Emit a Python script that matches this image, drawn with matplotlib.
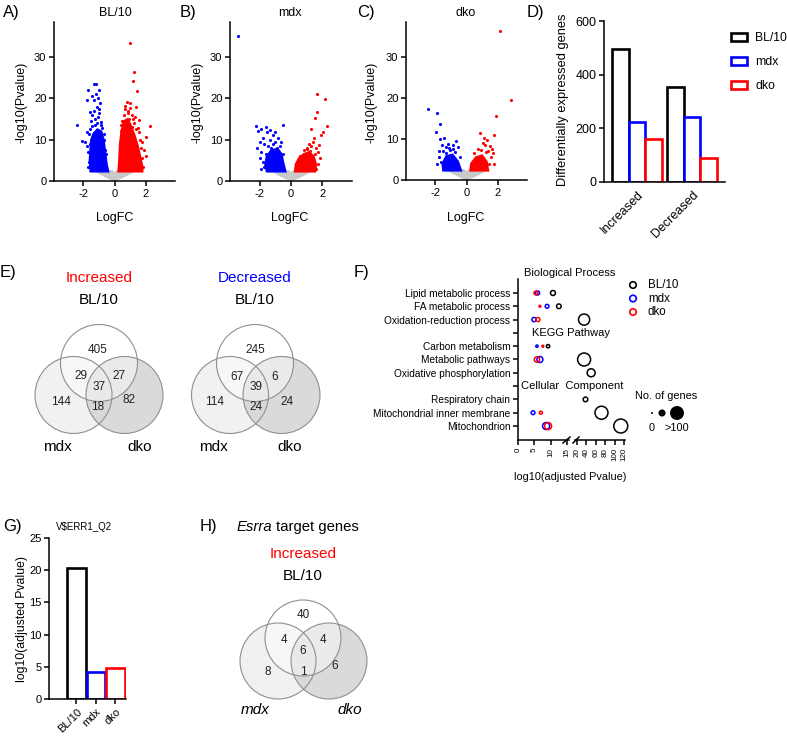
import numpy as np
import matplotlib
matplotlib.use("Agg")
import matplotlib.pyplot as plt
from matplotlib.patches import Circle, Polygon

plt.rcParams['font.family'] = ['Liberation Sans', 'DejaVu Sans']
plt.rcParams['axes.unicode_minus'] = False

# ---------------- data ----------------
# Volcano plots: gray (non-significant) envelope, dense cores and individual genes
gray_x = [0, -0.6, -1.3, -0.15, 0, 0.15, 1.35, 0.65]
gray_y = [0, 1.1, 2.5, 2.5, 1.9, 2.5, 2.5, 1.1]

a_down_core_x = [-1.55, -1.6, -1.55, -1.5, -1.35, -1.1, -0.85, -0.7, -0.6, -0.5, -0.4]
a_down_core_y = [2.3, 5, 8, 10, 11.5, 12.5, 12, 10, 7, 4, 2.3]
a_up_core_x = [0.25, 0.3, 0.35, 0.45, 0.6, 0.85, 1.05, 1.3, 1.5, 1.65, 1.8, 1.8]
a_up_core_y = [2.3, 5, 9, 12, 14.5, 15, 13.5, 11, 8.5, 6, 3.5, 2.3]
a_down_x = [-2.43, -2.08, -1.9, -1.8, -1.79, -1.73, -1.6, -1.44, -1.35, -1.2, -1.3, -1.08, -0.97, -1.13, -0.97,
            -1.25, -1.05, -0.9, -1.4, -1.6, -1.7, -1.65, -1.55, -0.85, -1.15, -1.35, -0.95, -1.5, -1.75, -0.7,
            -0.62, -1.2, -1.0, -1.45, -1.62, -1.48, -0.78, -0.66, -1.28, -1.72, -0.55]
a_down_y = [13.6, 9.8, 9.4, 11.8, 19.6, 22.0, 16.8, 13.2, 23.6, 23.6, 19.6, 20.0, 17.5, 18.0, 22.0,
            15.0, 15.5, 14.2, 11.0, 9.0, 7.0, 4.5, 12.5, 13.5, 14.0, 17.0, 19.0, 14.5, 8.5, 10.0,
            7.5, 21.0, 16.5, 20.5, 11.5, 16.0, 12.8, 11.5, 13.5, 3.5, 6.5]
a_up_x = [0.97, 1.26, 1.2, 1.43, 2.27, 2.0, 1.56, 1.03, 0.97, 1.39, 1.6, 0.8, 0.85, 0.6, 1.1, 1.25, 0.7, 1.5,
          1.8, 1.9, 1.75, 1.3, 0.5, 1.15, 0.95, 1.65, 1.4, 0.45, 1.85, 2.05, 0.65, 0.9, 1.2, 1.7, 0.4]
a_up_y = [33.3, 26.3, 24.1, 21.7, 13.2, 10.7, 11.8, 18.9, 17.7, 18.0, 14.8, 19.2, 16.5, 16.0, 16.0, 14.0, 17.5,
          12.8, 9.5, 7.5, 5.5, 15.5, 14.5, 13.0, 15.0, 10.0, 12.5, 12.0, 3.5, 6.0, 18.2, 17.0, 15.0, 8.0, 13.5]

b_down_core_x = [-1.55, -1.65, -1.55, -1.25, -0.85, -0.6, -0.5, -0.35]
b_down_core_y = [2.3, 4, 6, 7.5, 7.8, 6.5, 4.5, 2.3]
b_up_core_x = [0.25, 0.3, 0.5, 0.8, 1.15, 1.45, 1.6, 1.55]
b_up_core_y = [2.3, 4, 5.5, 6.5, 7.0, 6.0, 4, 2.3]
b_down_x = [-3.42, -2.26, -2.1, -1.9, -1.61, -0.54, -1.55, -1.12, -1.8, -2.0, -1.35, -0.8, -1.0, -1.7, -1.45,
            -2.2, -1.9, -0.7, -1.25, -1.6, -2.0, -1.8, -0.5, -1.05, -1.35, -0.9, -1.75, -1.95, -1.15, -0.65]
b_down_y = [35.2, 13.2, 12.0, 12.5, 13.1, 13.5, 11.8, 11.1, 10.5, 9.5, 10.0, 10.5, 9.5, 9.0, 8.5,
            8.0, 7.0, 8.5, 8.0, 6.5, 5.5, 4.5, 6.5, 11.8, 12.3, 8.0, 3.5, 3.0, 9.0, 9.5]
b_up_x = [1.68, 2.15, 1.68, 1.55, 2.3, 2.04, 1.25, 1.9, 1.47, 1.15, 1.3, 1.6, 1.75, 1.0, 0.8, 1.85, 1.7,
          1.55, 1.2, 0.55, 1.6, 1.4, 1.05, 1.8]
b_up_y = [21.0, 19.8, 16.7, 15.2, 13.2, 11.8, 12.5, 11.1, 10.3, 9.0, 8.5, 8.0, 7.0, 8.0, 7.5, 5.5, 4.0,
          6.5, 7.2, 6.0, 3.0, 9.5, 7.8, 8.8]

c_down_core_x = [-1.5, -1.55, -1.3, -0.9, -0.55, -0.35]
c_down_core_y = [2.3, 4, 5.8, 6.2, 4.5, 2.3]
c_up_core_x = [0.25, 0.3, 0.6, 1.0, 1.3, 1.4]
c_up_core_y = [2.3, 4, 5.5, 6, 4.5, 2.3]
c_down_x = [-2.5, -1.9, -1.73, -1.94, -1.47, -1.73, -1.6, -1.35, -1.2, -0.9, -0.55, -1.75, -1.5, -1.05,
            -0.75, -1.8, -1.65, -0.4, -1.3, -0.65, -1.9, -1.1, -0.85]
c_down_y = [17.4, 16.3, 13.6, 11.6, 10.2, 10.0, 8.5, 8.0, 8.8, 8.5, 8.0, 7.0, 7.0, 7.2,
            6.8, 5.5, 4.5, 5.5, 6.5, 9.5, 4.0, 7.8, 7.5]
c_up_x = [2.13, 2.84, 1.87, 1.76, 0.9, 1.33, 1.5, 1.2, 1.05, 1.65, 1.4, 0.75, 1.6, 1.45, 0.5, 1.7, 1.1, 1.8,
          0.95, 1.25]
c_up_y = [36.2, 19.4, 15.6, 11.0, 11.4, 9.8, 8.2, 8.5, 9.0, 7.5, 7.0, 7.5, 5.5, 4.0, 6.5, 6.5, 10.2, 4.0,
          7.2, 6.8]

# D) DEG counts
groups = ['BL/10', 'mdx', 'dko']
directions = ['Increased', 'Decreased']
deg_increased = [496, 225, 162]
deg_decreased = [354, 241, 89]

# E) Venn counts: BL only, BL&mdx, BL&dko, all, mdx only, mdx&dko, dko only
venn_inc = [405, 29, 27, 37, 144, 18, 82]
venn_dec = [245, 67, 6, 39, 114, 24, 24]

# F) enrichment
terms = ['Lipid metabolic process', 'FA metabolic process', 'Oxidation-reduction process', '',
         'Carbon metabolism', 'Metabolic pathways', 'Oxidative phosphorylation', '',
         'Respiratory chain', 'Mitochondrial inner membrane', 'Mitochondrion']
nan = np.nan
bl10_p = [10.7, 12.5, 35, nan, 9.2, 35, 50, nan, 38, 72, 113]
bl10_n = [14, 12, 70, nan, 6, 95, 36, nan, 12, 95, 110]
mdx_p = [6.0, 8.9, 4.9, nan, 5.8, 6.7, nan, nan, nan, 4.6, 8.6]
mdx_n = [9, 8, 10, nan, 3, 20, nan, nan, nan, 8, 28]
dko_p = [5.5, 6.7, 6.1, nan, 7.6, 5.8, nan, nan, nan, 7.0, 9.2]
dko_n = [9, 2, 9, nan, 2, 16, nan, nan, nan, 5, 28]
sections = ['Biological Process', 'KEGG Pathway', 'Cellular  Component']
f_xticks = [0, 5, 10, 15, 20, 40, 60, 80, 100, 120]

# G) ERR1 motif
g_groups = ['BL/10', 'mdx', 'dko']
g_values = [20.4, 4.2, 4.8]

# H) Esrra targets
venn_esrra = [40, 4, 4, 6, 8, 1, 6]

colors = ['black', '#0000ff', '#ff0000']

# ---------------- figure ----------------
W, H = 787, 738
fig = plt.figure(figsize=(W / 100, H / 100), dpi=100)


def ax_px(l, t, r, b):
    return fig.add_axes([l / W, 1 - b / H, (r - l) / W, (b - t) / H])


def style(ax, lw=1.1, ls=8):
    for s in ['top', 'right']:
        ax.spines[s].set_visible(False)
    for s in ['left', 'bottom']:
        ax.spines[s].set_linewidth(lw)
    ax.tick_params(length=3.5, width=lw, labelsize=ls, direction='out', pad=2)


def volcano(ax, dcx, dcy, ucx, ucy, dx, dy, ux, uy):
    ax.add_patch(Polygon(np.column_stack([gray_x, gray_y]), closed=True, fc='#c9c9c9', ec='#c9c9c9', lw=1))
    ax.add_patch(Polygon(np.column_stack([dcx, dcy]), closed=True, fc='#0000ff', ec='#0000ff', lw=1.5))
    ax.add_patch(Polygon(np.column_stack([ucx, ucy]), closed=True, fc='#ff0000', ec='#ff0000', lw=1.5))
    ax.scatter(dx, dy, s=5, c='#0000ff', lw=0)
    ax.scatter(ux, uy, s=5, c='#ff0000', lw=0)
    ax.set_xlim(-3.9, 3.9)
    ax.set_ylim(0, 38.5)
    ax.set_xticks([-2, 0, 2])
    ax.set_yticks([0, 10, 20, 30])
    style(ax)


axA = ax_px(54, 22, 175, 181)
volcano(axA, a_down_core_x, a_down_core_y, a_up_core_x, a_up_core_y, a_down_x, a_down_y, a_up_x, a_up_y)
axB = ax_px(230, 22, 352, 181)
volcano(axB, b_down_core_x, b_down_core_y, b_up_core_x, b_up_core_y, b_down_x, b_down_y, b_up_x, b_up_y)
axC = ax_px(406, 22, 527, 180)
volcano(axC, c_down_core_x, c_down_core_y, c_up_core_x, c_up_core_y, c_down_x, c_down_y, c_up_x, c_up_y)

# D
axD = ax_px(604, 21, 725, 182)
w = 0.30
bars = []
for i, g in enumerate(groups):
    vals = [deg_increased[i], deg_decreased[i]]
    b = axD.bar(np.arange(2) + (i - 1) * w, vals, width=w, fc='white', ec=colors[i], lw=1.9, label=g)
    bars.append(b)
axD.set_xlim(-0.6, 1.6)
axD.set_ylim(0, 600)
axD.set_yticks([0, 200, 400, 600])
axD.set_xticks([0, 1])
axD.set_xticklabels(directions, rotation=45, ha='right', va='top', rotation_mode='anchor')
style(axD, ls=9)
axD.tick_params(axis='x', length=0, pad=5)
axD.legend(handles=bars, loc='upper left', bbox_to_anchor=(720 / W, 1 - 21 / H), bbox_transform=fig.transFigure,
           frameon=False, fontsize=8.8, handlelength=1.3, handleheight=0.6, handletextpad=0.7, labelspacing=1.0)

# F
axF = ax_px(518, 279, 625, 440)
fx = [-100, 0, 15, 20, 1000]
fp = [-327, 0, 49, 59, 59 + 980 * 0.47]
axF.set_xscale('function', functions=(lambda v: np.interp(v, fx, fp), lambda v: np.interp(v, fp, fx)))
rows = np.arange(1, len(terms) + 1)
for p, n, c in [(bl10_p, bl10_n, colors[0]), (mdx_p, mdx_n, colors[1]), (dko_p, dko_n, colors[2])]:
    axF.scatter(p, rows, s=np.array(n, dtype=float) * 0.92, facecolors='none', edgecolors=c, lw=1.1,
                clip_on=False, zorder=3)
axF.set_xlim(0, 122)
axF.set_ylim(12.05, -0.05)
axF.set_yticks(rows)
axF.set_yticklabels(terms)
axF.set_xticks(f_xticks)
axF.set_xticklabels([str(t) for t in f_xticks], rotation=90)
axF.xaxis.set_minor_locator(matplotlib.ticker.NullLocator())
style(axF)
axF.tick_params(axis='y', labelsize=7.3)
axF.tick_params(axis='x', labelsize=5.8)
axF.spines['bottom'].set_visible(False)
axF.plot([0, 15.8], [0, 0], transform=axF.get_xaxis_transform(), color='k', lw=1.1, clip_on=False)
axF.plot([19.2, 122], [0, 0], transform=axF.get_xaxis_transform(), color='k', lw=1.1, clip_on=False)

# G
axG = ax_px(49, 538, 126, 699)
axG.bar(np.arange(3), g_values, width=0.97, fc='white', ec=colors, lw=1.9)
axG.set_xlim(-1.41, 2.54)
axG.set_ylim(0, 25)
axG.set_yticks([0, 5, 10, 15, 20, 25])
axG.set_xticks(np.arange(3))
axG.set_xticklabels(g_groups, rotation=45, ha='right', va='top', rotation_mode='anchor')
style(axG)

# ---------------- overlay (pixel coords) ----------------
ov = fig.add_axes([0, 0, 1, 1])
ov.set_xlim(0, W)
ov.set_ylim(H, 0)
ov.axis('off')


def T(x, y, s, **kw):
    kw.setdefault('ha', 'center')
    kw.setdefault('va', 'center')
    ov.text(x, y, s, **kw)


# panel letters
for (x, y, s) in [(3, 13, 'A)'), (180, 13, 'B)'), (357, 13, 'C)'), (527, 13, 'D)'),
                  (0, 272, 'E)'), (354, 272, 'F)'), (3, 527, 'G)'), (200, 527, 'H)')]:
    T(x, y, s, ha='left', fontsize=12)

# volcano titles / labels
for cx, yl_x, t in [(115, 22, 'BL/10'), (290, 197, 'mdx'), (466, 372, 'dko')]:
    T(cx, 13, t, fontsize=9)
    T(cx, 218, 'LogFC', fontsize=9)
    T(yl_x, 102, '-log10(Pvalue)', rotation=90, fontsize=9)
T(563, 100, 'Differentially expressed genes', rotation=90, fontsize=9.3)

# Venn diagrams


def venn(tc, lc, rc, r, counts, cpos, title, tcol, names, npos, italic=False):
    ov.add_patch(Circle(lc, r, fc='#f1f1f1', ec='none'))
    ov.add_patch(Circle(rc, r, fc='#d6d6d6', ec='none', alpha=0.9))
    ov.add_patch(Circle(tc, r, fc='white', ec='none', alpha=0.45))
    for c in (lc, rc, tc):
        ov.add_patch(Circle(c, r, fc='none', ec='#8f8f8f', lw=0.8))
    for v, (x, y) in zip(counts, cpos):
        T(x, y, str(v), fontsize=8.5, color='#222222')
    T(tc[0], tc[1] - r - 46, title, fontsize=11, color=tcol)
    T(tc[0], tc[1] - r - 24, 'BL/10', fontsize=11)
    style_kw = {'style': 'italic'} if italic else {}
    for nm, (x, y) in zip(names, npos):
        T(x, y, nm, fontsize=11, **style_kw)


venn((99, 363), (73.5, 395), (124.5, 395), 38.5, venn_inc,
     [(98, 350), (81, 376), (119, 376), (99, 387), (61, 402), (98, 407), (129, 400)],
     'Increased', '#ff0000', ['mdx', 'dko'], [(57, 447), (140, 447)])
venn((255, 363), (230, 395), (281.5, 395), 38.5, venn_dec,
     [(255, 350), (237, 377), (275, 377), (256, 387), (215, 402), (256, 407), (287, 402)],
     'Decreased', '#0000ff', ['mdx', 'dko'], [(213, 447), (290, 447)])
venn((303, 638), (278, 661), (329, 661), 38, venn_esrra,
     [(303, 615), (284, 640), (323, 640), (303, 651), (268, 672), (303, 672), (335, 666)],
     'Increased', '#ff0000', ['mdx', 'dko'], [(255, 710), (350, 710)], italic=True)
ov.text(237, 527, 'Esrra', style='italic', fontsize=10.7, ha='left', va='center')
ov.text(276, 527, 'target genes', fontsize=10.7, ha='left', va='center')

# F annotations
T(570, 273, sections[0], fontsize=8)
T(571, 333, sections[1], fontsize=8)
T(572, 386, sections[2], fontsize=8)
T(570, 477, 'log10(adjusted Pvalue)', fontsize=7.8)
ov.plot([563, 570], [443, 437], color='k', lw=1.1)
ov.plot([573, 579], [443, 437], color='k', lw=1.1)
for i, g in enumerate(groups):
    ov.scatter([633], [285 + 13.5 * i], s=22, facecolors='none', edgecolors=colors[i], lw=1.2)
    T(648, 285 + 13.5 * i, g, ha='left', fontsize=8.3)
T(635, 396, 'No. of genes', ha='left', fontsize=7.9)
ov.scatter([652, 662, 677], [413, 413, 413], s=[2, 26, 101], c='k', lw=0)
T(652, 428, '0', fontsize=7.9)
T(677, 428, '>100', fontsize=7.9)

# G annotations
T(84, 527, 'V$ERR1_Q2', fontsize=7)
T(22, 619, 'log10(adjusted Pvalue)', rotation=90, fontsize=8.8)

fig.savefig('out.png', dpi=100)
